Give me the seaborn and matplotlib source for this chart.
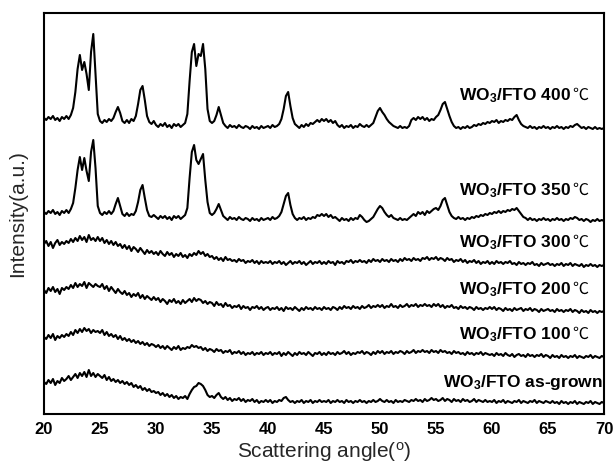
import numpy as np
import pandas as pd
import matplotlib
matplotlib.use("Agg")
import matplotlib.pyplot as plt
from matplotlib.ticker import MultipleLocator
import seaborn as sns

# 2-theta measurement grid (degrees), 0.2 degree step
two_theta = np.round(np.linspace(20.0, 70.0, 251), 1)

# Stacked XRD intensities (a.u., vertical offsets included), one row per 5 degrees
wo3_400 = [
    296, 294, 297, 295, 298, 294, 296, 293, 297, 295, 298, 295, 299, 306, 322, 345, 359, 344, 352, 340, 324, 362, 380, 340, 300,
    293, 291, 294, 292, 295, 293, 296, 302, 307, 301, 293, 291, 294, 291, 295, 293, 298, 310, 324, 328, 314, 298, 292, 290, 293,
    289, 287, 290, 288, 291, 287, 289, 286, 290, 288, 290, 287, 289, 291, 300, 333, 362, 370, 348, 360, 358, 370, 345, 305, 293,
    291, 293, 299, 307, 299, 291, 288, 286, 289, 287, 288, 286, 289, 287, 286, 288, 287, 285, 288, 286, 287, 285, 288, 286, 287,
    288, 286, 289, 287, 288, 290, 295, 305, 318, 322, 308, 296, 290, 288, 286, 289, 287, 290, 288, 291, 290, 292, 294, 292, 295,
    293, 295, 292, 294, 291, 293, 289, 287, 289, 286, 288, 287, 289, 286, 288, 287, 290, 288, 287, 289, 287, 289, 291, 297, 303,
    306, 302, 299, 295, 292, 290, 288, 287, 286, 288, 286, 287, 286, 288, 294, 296, 294, 297, 295, 297, 294, 296, 293, 295, 294,
    297, 299, 304, 310, 312, 305, 298, 292, 288, 286, 287, 285, 287, 286, 288, 286, 287, 289, 288, 290, 289, 291, 290, 292, 291,
    293, 292, 294, 291, 293, 292, 294, 293, 295, 294, 297, 299, 294, 290, 288, 287, 286, 288, 286, 287, 285, 287, 286, 288, 286,
    287, 285, 287, 286, 288, 286, 287, 285, 287, 286, 288, 287, 289, 290, 288, 286, 287, 285, 287, 286, 285, 287, 285, 286, 285,
    286,
]
wo3_350 = [
    202, 200, 203, 201, 204, 200, 202, 199, 203, 201, 204, 201, 205, 211, 226, 244, 257, 244, 256, 243, 233, 262, 274, 246, 208,
    201, 199, 202, 200, 203, 200, 203, 210, 216, 208, 200, 198, 201, 198, 200, 199, 203, 212, 224, 229, 216, 204, 198, 197, 199,
    197, 195, 198, 196, 198, 195, 197, 194, 198, 196, 198, 195, 197, 199, 206, 236, 262, 269, 254, 250, 255, 260, 234, 212, 201,
    199, 201, 205, 210, 204, 198, 196, 194, 197, 195, 196, 194, 197, 195, 194, 196, 195, 193, 196, 194, 195, 193, 196, 194, 195,
    196, 194, 197, 195, 196, 198, 202, 210, 218, 221, 209, 200, 196, 194, 196, 195, 197, 194, 196, 195, 197, 196, 199, 198, 200,
    198, 200, 197, 199, 196, 197, 195, 193, 196, 194, 195, 193, 196, 194, 196, 195, 199, 197, 194, 192, 193, 195, 197, 201, 205,
    208, 206, 202, 199, 197, 199, 196, 195, 194, 196, 194, 195, 194, 196, 198, 200, 198, 202, 200, 202, 199, 203, 201, 203, 205,
    206, 204, 208, 214, 216, 209, 202, 198, 196, 195, 197, 195, 196, 194, 196, 195, 197, 196, 198, 197, 199, 198, 200, 199, 201,
    200, 202, 201, 203, 201, 203, 202, 204, 203, 205, 204, 206, 203, 200, 197, 196, 194, 196, 194, 195, 193, 195, 194, 196, 194,
    195, 193, 195, 194, 196, 194, 195, 193, 195, 194, 196, 195, 197, 196, 194, 195, 193, 195, 194, 192, 194, 193, 195, 193, 194,
    193,
]
wo3_300 = [
    170, 173, 168, 172, 166, 171, 174, 169, 172, 170, 173, 171, 175, 172, 176, 173, 178, 174, 177, 172, 179, 174, 176, 173, 177,
    173, 176, 171, 174, 170, 173, 169, 172, 168, 170, 166, 169, 165, 168, 163, 167, 165, 162, 166, 163, 160, 164, 161, 163, 160,
    162, 159, 163, 160, 158, 162, 159, 161, 157, 160, 158, 161, 157, 159, 156, 160, 158, 161, 159, 163, 160, 162, 158, 160, 157,
    158, 155, 157, 154, 156, 153, 157, 154, 155, 153, 154, 152, 155, 153, 154, 151, 153, 152, 154, 151, 153, 150, 153, 151, 152,
    151, 153, 150, 152, 151, 153, 150, 152, 149, 151, 153, 150, 152, 151, 153, 150, 152, 149, 151, 153, 150, 152, 151, 153, 150,
    152, 150, 153, 151, 152, 149, 153, 151, 152, 150, 153, 152, 154, 151, 153, 152, 154, 152, 153, 151, 154, 152, 155, 153, 154,
    152, 155, 153, 154, 152, 155, 153, 154, 152, 155, 153, 156, 154, 155, 153, 156, 154, 155, 153, 156, 155, 157, 154, 156, 155,
    157, 154, 156, 155, 153, 156, 154, 155, 152, 154, 153, 155, 152, 154, 151, 153, 152, 154, 151, 153, 150, 152, 151, 153, 150,
    152, 150, 153, 151, 152, 150, 152, 151, 153, 150, 151, 149, 152, 150, 151, 149, 151, 150, 152, 149, 150, 148, 151, 149, 150,
    151, 149, 150, 148, 150, 149, 151, 148, 150, 149, 151, 148, 150, 149, 148, 150, 147, 149, 148, 150, 148, 149, 147, 149, 148,
    149,
]
wo3_200 = [
    124, 121, 126, 123, 127, 122, 125, 120, 126, 124, 127, 125, 129, 126, 131, 127, 130, 128, 132, 126, 131, 129, 127, 130, 128,
    127, 130, 125, 128, 123, 127, 124, 121, 125, 122, 120, 123, 119, 121, 117, 120, 118, 121, 116, 119, 115, 118, 116, 114, 117,
    114, 116, 112, 115, 113, 110, 114, 112, 115, 111, 113, 110, 114, 111, 113, 115, 112, 116, 113, 115, 114, 111, 113, 110, 112,
    111, 108, 112, 109, 110, 107, 111, 108, 109, 106, 108, 107, 109, 105, 108, 106, 107, 104, 107, 106, 108, 105, 107, 104, 106,
    107, 104, 106, 105, 107, 104, 106, 103, 107, 105, 106, 104, 107, 105, 103, 106, 104, 107, 105, 106, 104, 107, 105, 106, 104,
    107, 105, 106, 104, 107, 106, 104, 107, 105, 108, 106, 107, 105, 108, 106, 107, 105, 108, 106, 107, 109, 106, 108, 107, 109,
    107, 109, 106, 108, 107, 110, 107, 108, 106, 109, 107, 108, 110, 107, 109, 108, 110, 107, 109, 108, 110, 108, 109, 107, 110,
    108, 110, 107, 109, 106, 108, 107, 109, 106, 107, 105, 108, 106, 107, 105, 107, 106, 104, 107, 105, 106, 104, 106, 105, 107,
    105, 107, 104, 106, 105, 103, 106, 104, 105, 103, 106, 104, 105, 106, 103, 105, 104, 106, 103, 105, 104, 102, 105, 103, 104,
    105, 103, 104, 102, 105, 103, 104, 102, 104, 103, 105, 102, 104, 103, 101, 104, 102, 103, 101, 104, 102, 103, 101, 103, 102,
    103,
]
wo3_100 = [
    77, 75, 79, 76, 80, 74, 78, 76, 79, 77, 80, 78, 82, 79, 84, 81, 85, 82, 86, 83, 85, 81, 84, 82, 83,
    81, 84, 79, 82, 78, 80, 77, 79, 75, 78, 74, 76, 73, 75, 72, 74, 71, 73, 70, 72, 69, 71, 68, 70, 69,
    67, 69, 66, 68, 65, 68, 66, 64, 67, 65, 68, 64, 66, 65, 67, 66, 69, 67, 68, 66, 67, 64, 66, 63, 65,
    64, 62, 65, 63, 64, 61, 63, 62, 64, 60, 62, 61, 63, 60, 62, 59, 61, 60, 62, 59, 61, 60, 62, 59, 61,
    60, 62, 59, 61, 60, 62, 58, 61, 59, 62, 60, 58, 61, 59, 62, 60, 61, 59, 62, 60, 58, 61, 60, 62, 59,
    61, 59, 62, 60, 61, 59, 62, 60, 61, 63, 60, 62, 59, 61, 60, 62, 61, 63, 60, 62, 61, 59, 62, 60, 63,
    61, 63, 60, 62, 61, 63, 60, 62, 61, 63, 62, 60, 63, 61, 62, 64, 61, 63, 62, 64, 62, 63, 61, 64, 62,
    63, 61, 64, 62, 63, 61, 62, 60, 63, 61, 62, 60, 61, 59, 62, 60, 61, 59, 61, 60, 62, 59, 61, 60, 59,
    60, 58, 61, 59, 60, 58, 61, 59, 58, 60, 57, 59, 60, 58, 59, 57, 60, 58, 59, 57, 59, 58, 60, 57, 59,
    58, 56, 59, 57, 58, 56, 59, 57, 58, 56, 58, 57, 59, 56, 58, 57, 56, 58, 57, 59, 56, 58, 57, 56, 58,
    57,
]
wo3_as_grown = [
    32, 30, 34, 31, 35, 29, 33, 31, 36, 33, 35, 38, 34, 37, 40, 36, 41, 38, 42, 37, 44, 38, 41, 37, 40,
    38, 36, 39, 34, 37, 33, 35, 32, 34, 31, 33, 30, 32, 29, 31, 27, 29, 26, 28, 24, 26, 23, 25, 22, 23,
    21, 22, 19, 21, 18, 20, 17, 19, 16, 18, 15, 17, 16, 18, 15, 20, 24, 27, 28, 31, 30, 28, 24, 19, 17,
    18, 16, 19, 21, 17, 15, 17, 14, 16, 13, 15, 14, 16, 13, 15, 12, 14, 13, 15, 12, 14, 11, 13, 12, 14,
    12, 14, 11, 13, 12, 14, 13, 16, 17, 14, 12, 13, 11, 13, 12, 14, 11, 13, 12, 14, 11, 13, 12, 14, 12,
    13, 12, 14, 11, 13, 12, 14, 12, 13, 11, 14, 12, 13, 11, 13, 12, 14, 12, 13, 11, 13, 12, 14, 12, 13,
    15, 13, 12, 14, 12, 13, 11, 14, 12, 13, 12, 14, 13, 12, 14, 13, 15, 13, 14, 12, 15, 13, 14, 16, 14,
    15, 13, 14, 16, 13, 15, 14, 12, 15, 13, 14, 12, 15, 13, 14, 12, 13, 15, 12, 14, 13, 12, 14, 12, 13,
    12, 14, 11, 13, 12, 14, 11, 13, 12, 11, 13, 12, 14, 11, 13, 12, 11, 13, 12, 14, 11, 13, 12, 11, 13,
    12, 11, 13, 11, 12, 10, 13, 11, 12, 10, 12, 11, 13, 10, 12, 11, 10, 12, 11, 13, 10, 12, 11, 10, 12,
    11,
]

samples = ["400", "350", "300", "200", "100", "as-grown"]
sample_values = [wo3_400, wo3_350, wo3_300, wo3_200, wo3_100, wo3_as_grown]

# Curve annotations: text, x (degrees), baseline y, whether a Celsius sign follows
labels = [
    ("WO$_{\\mathbf{3}}$/FTO 400", 57.05, 314, True),
    ("WO$_{\\mathbf{3}}$/FTO 350", 57.05, 219, True),
    ("WO$_{\\mathbf{3}}$/FTO 300", 57.05, 167, True),
    ("WO$_{\\mathbf{3}}$/FTO 200", 57.05, 120, True),
    ("WO$_{\\mathbf{3}}$/FTO 100", 57.05, 75, True),
    ("WO$_{\\mathbf{3}}$/FTO as-grown", 55.6, 27, False),
]

x_ticks = [20, 25, 30, 35, 40, 45, 50, 55, 60, 65, 70]

frames = [
    pd.DataFrame({"angle": two_theta, "intensity": vals, "sample": name})
    for name, vals in zip(samples, sample_values)
]
df = pd.concat(frames, ignore_index=True)

sns.set_style("white")
plt.rcParams["font.family"] = ["Liberation Sans", "DejaVu Sans"]
plt.rcParams["mathtext.fontset"] = "custom"
plt.rcParams["mathtext.rm"] = "Liberation Sans"
plt.rcParams["mathtext.bf"] = "Liberation Sans:bold"
plt.rcParams["mathtext.it"] = "Liberation Sans:italic"

fig = plt.figure(figsize=(6.14, 4.67), dpi=100)
ax = fig.add_axes([44 / 614, 1 - 414 / 467, 560 / 614, 401 / 467])

sns.lineplot(
    data=df, x="angle", y="intensity", hue="sample",
    palette={s: "black" for s in samples}, estimator=None, sort=False,
    legend=False, linewidth=1.5, ax=ax,
)

ax.set_xlim(20, 70)
ax.set_ylim(0, 401)
ax.set_xticks(x_ticks)
ax.set_xticklabels([str(t) for t in x_ticks])
ax.xaxis.set_minor_locator(MultipleLocator(2.5))
ax.set_yticks([])
ax.tick_params(axis="x", which="major", direction="in", length=7, width=1.2,
               labelsize=12, pad=6, colors="black")
ax.tick_params(axis="x", which="minor", direction="in", length=4, width=1.2)
for lab in ax.get_xticklabels():
    lab.set_fontweight("bold")

for side in ["left", "right", "top", "bottom"]:
    ax.spines[side].set_visible(True)
    ax.spines[side].set_color("black")
    ax.spines[side].set_linewidth(1.5)

ax.set_xlabel("Scattering angle($^{\\mathrm{o}}$)", fontsize=15)
ax.set_ylabel("Intensity(a.u.)", fontsize=15)
ax.xaxis.set_label_coords(0.5, -0.066)
ax.yaxis.set_label_coords(-0.031, 0.5)

for text, xpos, ybase, celsius in labels:
    t = ax.text(xpos, ybase, text, ha="left", va="baseline", fontsize=12.5,
                fontweight="bold", color="black")
    if celsius:
        ax.annotate("\u2103", xy=(1, ybase), xycoords=(t, "data"),
                    xytext=(1.0, 0), textcoords="offset points",
                    ha="left", va="baseline", fontsize=11.5, color="black",
                    family=["Noto Sans CJK SC", "DejaVu Sans"])

fig.savefig("out.png", dpi=100, facecolor="white")
